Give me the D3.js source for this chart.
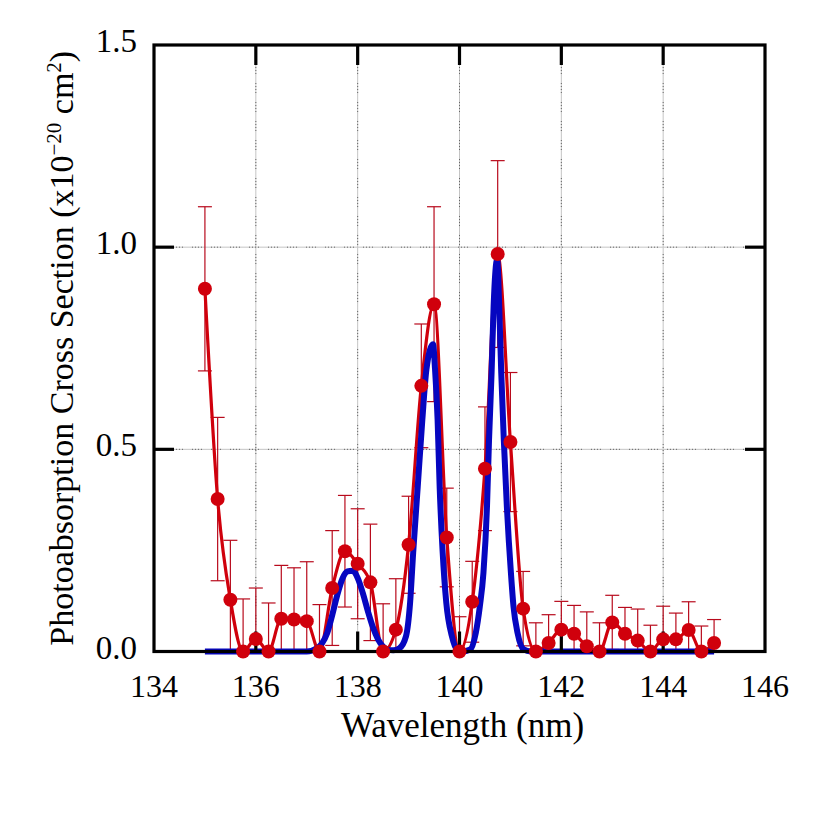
<!DOCTYPE html>
<html>
<head>
<meta charset="utf-8">
<script src="https://cdn.jsdelivr.net/npm/d3@7"></script>
<style>
  body { margin: 0; background: #fff; }
  text { font-family: "Liberation Serif", "Times New Roman", serif; fill: #000; }
</style>
</head>
<body>
<svg id="chart" width="830" height="830"></svg>
<script>
// measured points (red), one every 0.25 nm
const wavelength = [135.0, 135.25, 135.5, 135.75, 136.0, 136.25, 136.5, 136.75, 137.0, 137.25,
                    137.5, 137.75, 138.0, 138.25, 138.5, 138.75, 139.0, 139.25, 139.5, 139.75,
                    140.0, 140.25, 140.5, 140.75, 141.0, 141.25, 141.5, 141.75, 142.0, 142.25,
                    142.5, 142.75, 143.0, 143.25, 143.5, 143.75, 144.0, 144.25, 144.5, 144.75, 145.0];
const crossSection = [0.897, 0.377, 0.128, 0, 0.031, 0, 0.081, 0.079, 0.075, 0,
                      0.157, 0.248, 0.217, 0.171, 0, 0.054, 0.264, 0.657, 0.859, 0.282,
                      0, 0.123, 0.452, 0.983, 0.518, 0.106, 0, 0.021, 0.054, 0.044,
                      0.013, 0, 0.072, 0.044, 0.027, 0, 0.030, 0.030, 0.053, 0, 0.021];
const errorBar = [0.203, 0.202, 0.147, 0.130, 0.126, 0.120, 0.132, 0.128, 0.147, 0.116,
                  0.142, 0.138, 0.136, 0.144, 0.118, 0.126, 0.120, 0.153, 0.241, 0.122,
                  0.086, 0.100, 0.153, 0.231, 0.172, 0.092, 0.071, 0.070, 0.070, 0.070,
                  0.085, 0.071, 0.067, 0.065, 0.078, 0.065, 0.082, 0.065, 0.070, 0.063, 0.058];

// calculated curve (blue)
const fitX = [135.0, 137.0, 137.2, 137.3, 137.4, 137.5, 137.6, 137.7, 137.8, 137.9,
              138.0, 138.1, 138.2, 138.3, 138.4, 138.5, 138.6, 138.7, 138.82, 138.95,
              139.03, 139.09, 139.18, 139.27, 139.35, 139.48, 139.52, 139.57, 139.61, 139.67,
              139.74, 139.85, 139.95, 140.05, 140.21, 140.32, 140.40, 140.47, 140.54, 140.58,
              140.63, 140.67, 140.74, 140.78, 140.82, 140.87, 140.93, 141.01, 141.06, 141.14,
              141.26, 141.4, 145.0];
const fitY = [0, 0, 0.008, 0.02, 0.045, 0.09, 0.14, 0.18, 0.198, 0.2,
              0.182, 0.145, 0.10, 0.06, 0.03, 0.012, 0.004, 0.003, 0.008, 0.038,
              0.121, 0.244, 0.408, 0.573, 0.697, 0.76, 0.697, 0.573, 0.408, 0.244,
              0.121, 0.038, 0.005, 0, 0.005, 0.046, 0.112, 0.194, 0.359, 0.524,
              0.689, 0.853, 0.97, 0.853, 0.689, 0.524, 0.359, 0.194, 0.112, 0.046,
              0.005, 0, 0];

const xTicks = [134, 136, 138, 140, 142, 144, 146];
const yTicks = [0, 0.5, 1.0, 1.5];

const points = wavelength.map((w, i) => ({x: w, y: crossSection[i], e: errorBar[i]}));
const fit = fitX.map((w, i) => ({x: w, y: fitY[i]}));

let margin = {top: 45, right: 65, bottom: 178.5, left: 154};
let width = 830 - margin.left - margin.right;
let height = 830 - margin.top - margin.bottom;

let svg = d3.select("#chart")
  .append("g")
  .attr("transform", "translate(" + margin.left + "," + margin.top + ")");

let x = d3.scaleLinear().domain([134, 146]).range([0, width]);
let y = d3.scaleLinear().domain([0, 1.5]).range([height, 0]);

// grid: light gray line with a darker dash-dot pattern on top
let inner = xTicks.slice(1, -1);
let innerY = yTicks.slice(1, -1);
[["#c4c4c4", null], ["#666", "1,2,1,2,1,2,1,9"]].forEach(function(s){
  svg.append("g").selectAll("line.gx")
    .data(inner).enter().append("line")
      .attr("x1", d => x(d)).attr("x2", d => x(d))
      .attr("y1", 0).attr("y2", height)
      .style("stroke", s[0]).style("stroke-width", 1)
      .style("stroke-dasharray", s[1]);
  svg.append("g").selectAll("line.gy")
    .data(innerY).enter().append("line")
      .attr("x1", 0).attr("x2", width)
      .attr("y1", d => y(d)).attr("y2", d => y(d))
      .style("stroke", s[0]).style("stroke-width", 1)
      .style("stroke-dasharray", s[1]);
});

// error bars
let eb = svg.append("g").style("stroke", "#b80a1c").style("stroke-width", 1.2);
eb.selectAll("line.v")
  .data(points).enter().append("line")
    .attr("x1", d => x(d.x)).attr("x2", d => x(d.x))
    .attr("y1", d => y(Math.max(0, d.y - d.e))).attr("y2", d => y(d.y + d.e));
eb.selectAll("line.top")
  .data(points).enter().append("line")
    .attr("x1", d => x(d.x) - 7).attr("x2", d => x(d.x) + 7)
    .attr("y1", d => y(d.y + d.e)).attr("y2", d => y(d.y + d.e));
eb.selectAll("line.bot")
  .data(points.filter(d => d.y - d.e > 0)).enter().append("line")
    .attr("x1", d => x(d.x) - 7).attr("x2", d => x(d.x) + 7)
    .attr("y1", d => y(d.y - d.e)).attr("y2", d => y(d.y - d.e));

// measured line
svg.append("path")
  .datum(points)
  .attr("d", d3.line().x(d => x(d.x)).y(d => y(d.y)).curve(d3.curveMonotoneX))
  .style("fill", "none").style("stroke", "#d0000c").style("stroke-width", 3.2);

// calculated curve
svg.append("path")
  .datum(fit)
  .attr("d", d3.line().x(d => x(d.x)).y(d => y(d.y)).curve(d3.curveMonotoneX))
  .style("fill", "none").style("stroke", "#0606c0").style("stroke-width", 6)
  .style("stroke-linejoin", "round");

// frame and inward ticks on all four sides
let tl = 20;
let frame = svg.append("g").style("stroke", "#000").style("stroke-width", 3.2);
frame.append("rect")
  .attr("width", width).attr("height", height)
  .style("fill", "none");
frame.selectAll("line.xb").data(inner).enter().append("line")
  .attr("x1", d => x(d)).attr("x2", d => x(d)).attr("y1", height).attr("y2", height - tl);
frame.selectAll("line.xt").data(inner).enter().append("line")
  .attr("x1", d => x(d)).attr("x2", d => x(d)).attr("y1", 0).attr("y2", tl);
frame.selectAll("line.yl").data(innerY).enter().append("line")
  .attr("y1", d => y(d)).attr("y2", d => y(d)).attr("x1", 0).attr("x2", tl);
frame.selectAll("line.yr").data(innerY).enter().append("line")
  .attr("y1", d => y(d)).attr("y2", d => y(d)).attr("x1", width).attr("x2", width - tl);

// measured points
svg.append("g").selectAll("circle")
  .data(points).enter().append("circle")
    .attr("cx", d => x(d.x)).attr("cy", d => y(d.y)).attr("r", 7)
    .style("fill", "#d0000c");

// tick labels
svg.append("g").selectAll("text")
  .data(xTicks).enter().append("text")
    .attr("x", d => x(d)).attr("y", height + 45.5)
    .style("text-anchor", "middle").style("font-size", "32px")
    .text(d => d);
svg.append("g").selectAll("text")
  .data(yTicks).enter().append("text")
    .attr("x", -17).attr("y", d => y(d) + 7)
    .style("text-anchor", "end").style("font-size", "33px")
    .text(d => d.toFixed(1));

// axis titles
svg.append("text")
  .attr("transform", "translate(" + (width / 2 + 3) + "," + (height + 85.5) + ")")
  .style("text-anchor", "middle").style("font-size", "35px")
  .text("Wavelength (nm)");

let yt = svg.append("text")
  .attr("transform", "translate(" + (73 - margin.left) + "," + (height / 2) + ") rotate(-90)")
  .style("text-anchor", "middle").style("font-size", "34px");
yt.append("tspan").text("Photoabsorption Cross Section (x10");
yt.append("tspan").attr("dy", -12).style("font-size", "21px").text("\u221220");
yt.append("tspan").attr("dy", 12).text(" cm");
yt.append("tspan").attr("dy", -12).style("font-size", "21px").text("2");
yt.append("tspan").attr("dy", 12).text(")");
</script>
</body>
</html>
